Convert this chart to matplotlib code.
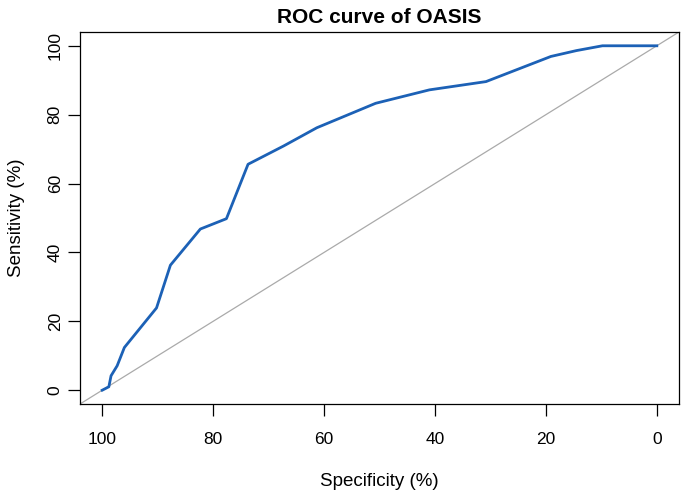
import numpy as np
import matplotlib
matplotlib.use('Agg')
import matplotlib.pyplot as plt

# ROC curve points (percent)
specificity = [100, 98.8, 98.4, 97.3, 96.0, 90.2, 87.7, 82.3, 77.6, 73.7,
               67.3, 61.3, 50.7, 41.0, 30.8, 19.1, 14.5, 9.8, 0]
sensitivity = [0, 1.0, 4.2, 7.1, 12.4, 23.9, 36.3, 46.8, 49.8, 65.6,
               70.9, 76.2, 83.3, 87.2, 89.6, 96.9, 98.6, 100, 100]
ticks = [100, 80, 60, 40, 20, 0]

plt.rcParams['font.family'] = ['Liberation Sans', 'DejaVu Sans']

fig = plt.figure(figsize=(6.87, 4.96), dpi=100)
ax = fig.add_axes([80/687, 1-404/496, 599/687, 372/496])

# chance line, clipped to the box
ax.plot([104, -4], [-4, 104], color='#aaaaaa', lw=0.9)
ax.plot(specificity, sensitivity, color='#1c61b6', lw=2)

ax.set_xlim(104, -4)
ax.set_ylim(-4, 104)
ax.set_xticks(ticks)
ax.set_yticks(ticks)
ax.tick_params(axis='both', direction='out', length=8.5, width=0.9,
               labelsize=12.5, top=False, right=False)
ax.tick_params(axis='x', pad=12)
ax.tick_params(axis='y', pad=4)
for lab in ax.get_yticklabels():
    lab.set_rotation(90)
    lab.set_va('center')
for s in ax.spines.values():
    s.set_linewidth(0.9)

ax.set_title('ROC curve of OASIS', fontsize=15, fontweight='bold', pad=6.5)
ax.set_xlabel('Specificity (%)', fontsize=13.5, va='center')
ax.set_ylabel('Sensitivity (%)', fontsize=13.5, va='center')
ax.xaxis.set_label_coords(0.5, -(481-404)/372)
ax.yaxis.set_label_coords(-(80-16.5)/599, 0.5)

fig.savefig('out.png', dpi=100)
